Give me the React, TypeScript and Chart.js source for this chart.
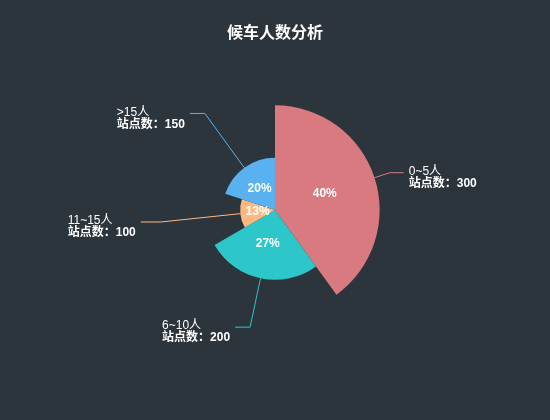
import React, { useRef, useEffect } from 'react';
import { Chart, registerables, Plugin } from 'chart.js';

Chart.register(...registerables);

const categories = ['0~5人', '6~10人', '11~15人', '>15人'];
const stationCounts = [300, 200, 100, 150];

const sliceColors = ['#d87a80', '#2ec7c9', '#ffb980', '#5ab1ef'];
// leader line: first segment along the slice direction, then a short horizontal one
const lineFirst = [16, 50, 80, 67];
const lineSecond = [14, 15, 20, 15];

const FONT = '"Liberation Sans", "Noto Sans CJK SC", sans-serif';
const total = stationCounts.reduce((a, b) => a + b, 0);

const roseLabels: Plugin<'polarArea'> = {
    id: 'roseLabels',
    afterDatasetsDraw(chart) {
        const ctx = chart.ctx;
        const meta = chart.getDatasetMeta(0);
        ctx.save();
        meta.data.forEach((el: any, i: number) => {
            const { x, y, startAngle, endAngle, outerRadius } = el.getProps(
                ['x', 'y', 'startAngle', 'endAngle', 'outerRadius'], true);
            const mid = (startAngle + endAngle) / 2;
            const cos = Math.cos(mid);
            const sin = Math.sin(mid);

            // percent inside
            const pct = Math.round(stationCounts[i] / total * 100) + '%';
            ctx.fillStyle = '#fff';
            ctx.font = 'bold 12px ' + FONT;
            ctx.textAlign = 'center';
            ctx.textBaseline = 'middle';
            ctx.fillText(pct, x + cos * outerRadius / 2, y + sin * outerRadius / 2);

            // leader line
            const ex = x + cos * outerRadius;
            const ey = y + sin * outerRadius;
            const mx = ex + cos * lineFirst[i];
            const my = ey + sin * lineFirst[i];
            const right = cos >= 0;
            const lx = mx + (right ? lineSecond[i] : -lineSecond[i]);
            ctx.strokeStyle = sliceColors[i];
            ctx.lineWidth = 1;
            ctx.beginPath();
            ctx.moveTo(ex, ey);
            ctx.lineTo(mx, my);
            ctx.lineTo(lx, my);
            ctx.stroke();

            // outer text, a left-aligned block on both sides
            const line1 = categories[i];
            const line2 = '站点数：' + stationCounts[i];
            ctx.font = '12px ' + FONT;
            const w1 = ctx.measureText(line1).width;
            ctx.font = 'bold 12px ' + FONT;
            const w2 = ctx.measureText(line2).width;
            const blockW = Math.max(w1, w2);
            const tx = right ? lx + 5 : lx - 5 - blockW;
            ctx.textAlign = 'left';
            ctx.fillStyle = '#fff';
            ctx.font = '12px ' + FONT;
            ctx.fillText(line1, tx, my - 1);
            ctx.font = 'bold 12px ' + FONT;
            ctx.fillText(line2, tx, my + 11);
        });
        ctx.restore();
    }
};

const App = () => {
    const chartRef = useRef<HTMLCanvasElement>(null);
    const chartInstance = useRef<Chart | null>(null);

    useEffect(() => {
        if (!chartRef.current) return;
        const ctx = chartRef.current.getContext('2d');
        if (!ctx) return;

        if (chartInstance.current) {
            chartInstance.current.destroy();
        }

        chartInstance.current = new Chart(ctx, {
            type: 'polarArea',
            data: {
                labels: categories,
                datasets: [{
                    data: stationCounts,
                    backgroundColor: sliceColors,
                    borderWidth: 0,
                    angle: (c: any) => stationCounts[c.dataIndex] / total * 360
                } as any]
            },
            options: {
                responsive: false,
                animation: false,
                layout: { padding: { bottom: 60 } },
                scales: {
                    r: {
                        display: false,
                        min: 0,
                        max: 430
                    }
                },
                plugins: {
                    legend: { display: false },
                    tooltip: { enabled: false },
                    title: {
                        display: true,
                        text: '候车人数分析',
                        color: '#fff',
                        font: { size: 16, weight: 'bold', family: FONT },
                        padding: { top: 24, bottom: 16.8 }
                    }
                }
            },
            plugins: [roseLabels]
        });

        return () => {
            if (chartInstance.current) {
                chartInstance.current.destroy();
                chartInstance.current = null;
            }
        };
    }, []);

    return (
        <div style={{ position: 'fixed', left: 0, top: 0, width: '550px', height: '420px', background: '#2c343c' }}>
            <canvas ref={chartRef} width={550} height={420}></canvas>
        </div>
    );
};

export default App;
